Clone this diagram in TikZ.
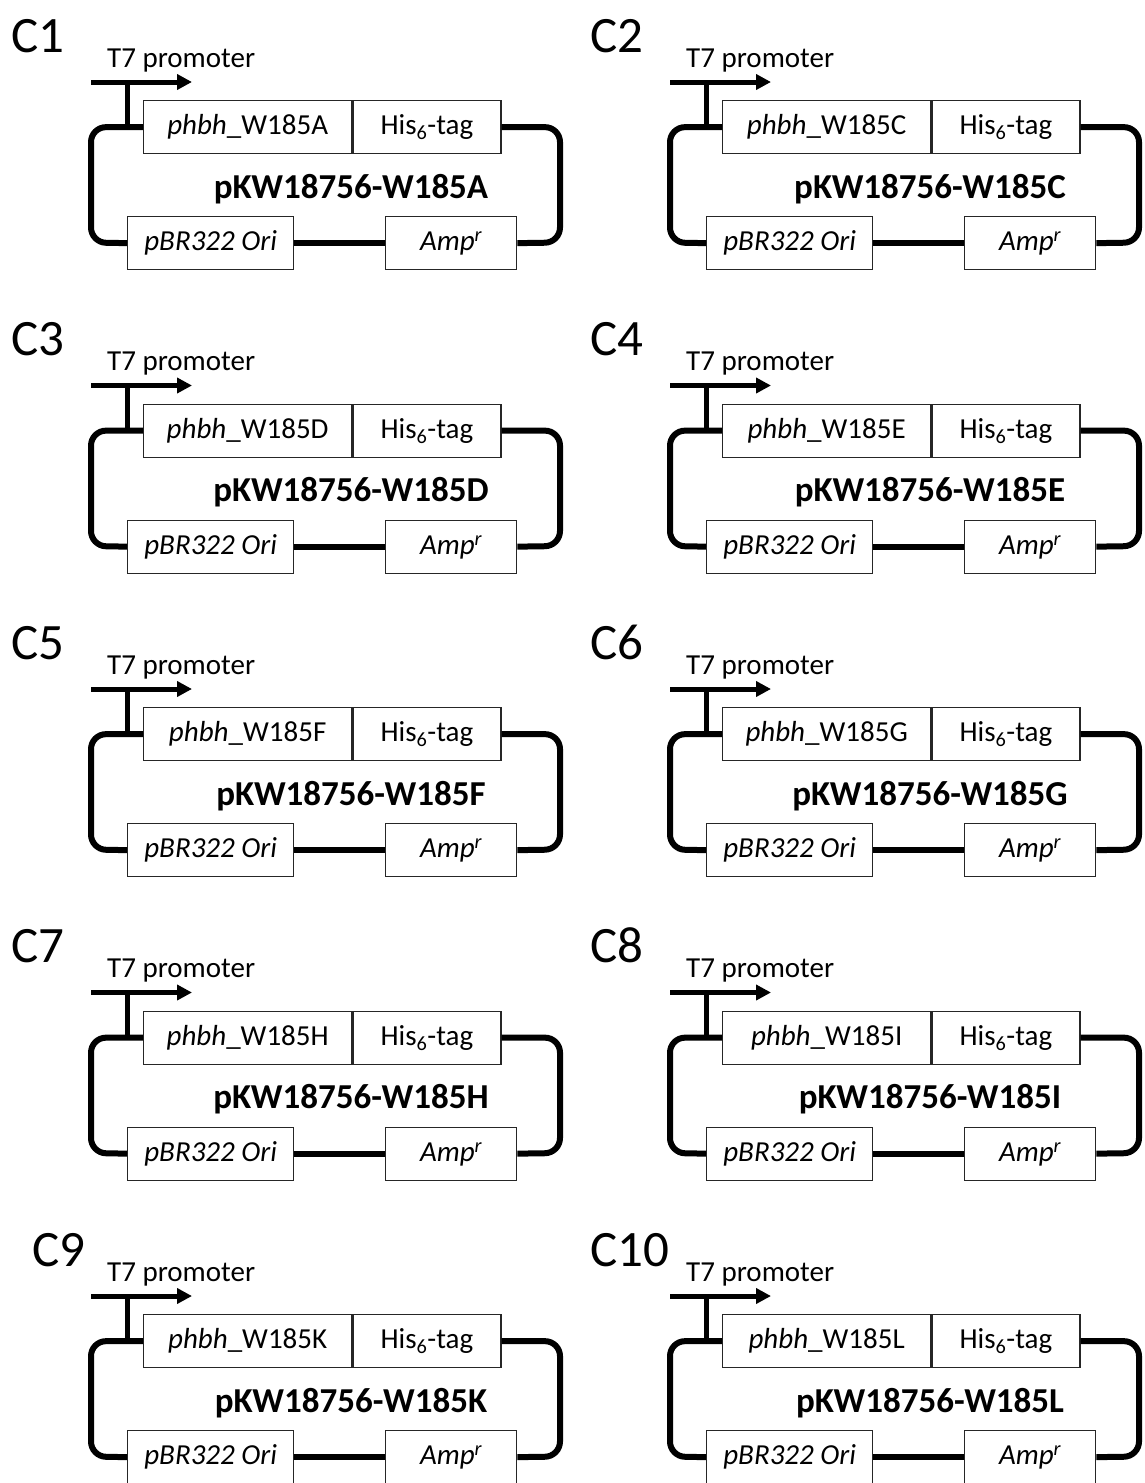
\documentclass[tikz,border=0pt]{standalone}
\usepackage{fontspec}
\setmainfont{Carlito}
\usetikzlibrary{arrows.meta}
\begin{document}
\begin{tikzpicture}[x=1pt,y=-1pt,
  loopline/.style={line width=6pt, rounded corners=15pt},
  promline/.style={line width=5pt},
  promarrow/.style={line width=5pt, -{Triangle[length=15pt,width=15pt]}},
  partbox/.style={draw=black!85, line width=1.3pt, fill=white, inner sep=0pt,
    minimum height=53pt, text height=20pt, text depth=5pt,
    font=\fontsize{29}{32}\selectfont},
  smalltext/.style={font=\fontsize{29}{32}\selectfont, inner sep=0pt},
  nametext/.style={font=\fontsize{35}{38}\selectfont\bfseries, inner sep=0pt},
  paneltext/.style={font=\fontsize{51}{56}\selectfont, inner sep=0pt}
]
\useasboundingbox (0,0) rectangle (1145,1483);
\fill[white] (0,0) rectangle (1145,1483);
\foreach \n/\col/\rw/\mut/\lbx in {1/0/0/A/11,2/1/0/C/11,3/0/1/D/11,4/1/1/E/11,5/0/2/F/11,6/1/2/G/11,7/0/3/H/11,8/1/3/I/11,9/0/4/K/32,10/1/4/L/11}
{
\begin{scope}[shift={(\col*579,\rw*303.5)}]
  % panel label and promoter text
  \node[paneltext, anchor=base west] (lab\n) at (\lbx,52) {C\n};
  \node[smalltext, anchor=base west] (t7\n) at (107,67) {T7 promoter};
  % parts
  \node[partbox, anchor=north west, minimum width=208pt] (gene\n) at (143,100) {\textit{phbh}\_W185\mut};
  \node[partbox, anchor=west, minimum width=148pt] (his\n) at (gene\n.east) {His\textsubscript{6}-tag};
  \node[partbox, anchor=north west, minimum width=166pt] (ori\n) at (127,216) {\textit{pBR322 Ori}};
  \node[partbox, anchor=north west, minimum width=131pt] (amp\n) at (385,216) {\textit{Amp\textsuperscript{r}}};
  \node[nametext, anchor=base] (name\n) at (351,198) {pKW18756-W185\mut};
  % loop corners and promoter points
  \coordinate (R\n) at (560,242.5);
  \coordinate (L\n) at (91,242.5);
  \coordinate (pa\n) at (91,82);
  \coordinate (pb\n) at (192,82);
  \coordinate (ps\n) at (127,82);
\end{scope}
% backbone
\draw[loopline] (his\n.east) -| (R\n) -- (amp\n.east);
\draw[loopline] (ori\n.east) -- (amp\n.west);
\draw[loopline] (ori\n.west) -- (L\n) |- (gene\n.west);
\draw[promline] (ps\n) -- (ps\n |- gene\n.west);
\draw[promarrow] (pa\n) -- (pb\n);
}
\end{tikzpicture}
\end{document}
